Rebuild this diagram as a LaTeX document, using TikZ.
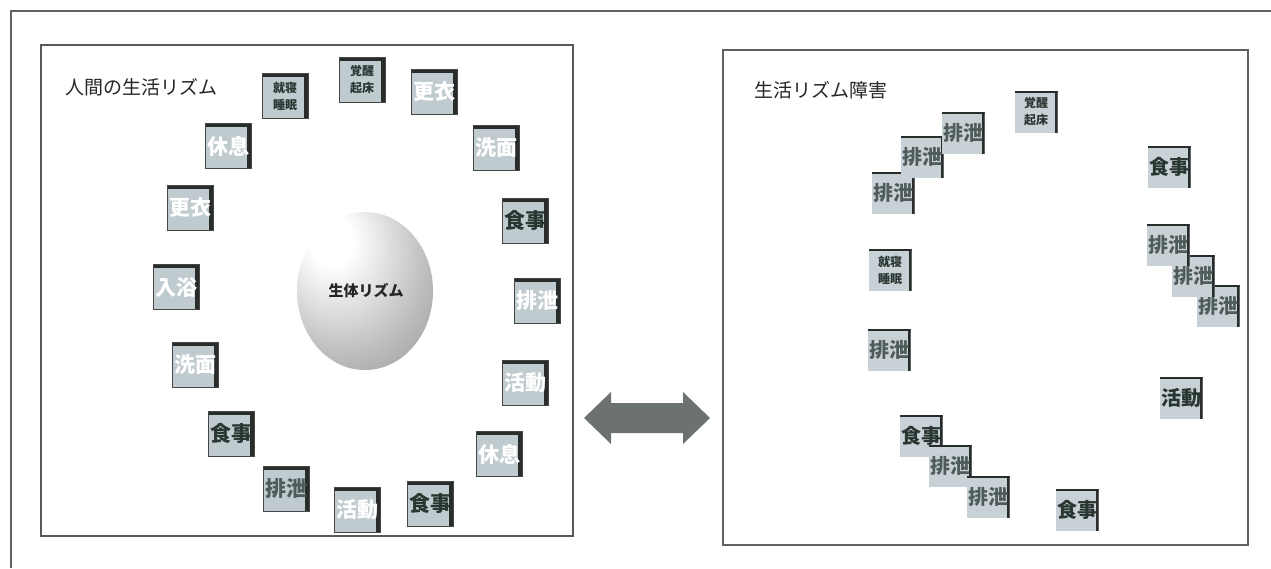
\documentclass[tikz,border=0pt]{standalone}
\usepackage{fontspec}
\newfontfamily\jp{Noto Sans CJK JP}
\definecolor{lfill}{RGB}{192,203,207}
\definecolor{rfill}{RGB}{200,210,214}
\definecolor{edge}{RGB}{40,44,43}
\definecolor{darktxt}{RGB}{42,54,50}
\definecolor{midtxt}{RGB}{80,92,89}
\definecolor{arrowc}{RGB}{108,114,112}
\definecolor{framec}{RGB}{95,98,97}
\pgfdeclareradialshading{spheresh}{\pgfpoint{-14bp}{18bp}}{%
  color(0bp)=(white); color(8bp)=(white); color(18bp)=(gray!22);
  color(30bp)=(gray!50); color(42bp)=(gray!75); color(55bp)=(gray!88); color(75bp)=(gray!95)}
\begin{document}
\begin{tikzpicture}[x=1pt,y=-1pt,
  lbox/.style={rectangle, minimum width=46pt, minimum height=45pt, inner sep=0pt,
    fill=lfill, draw=gray!55!black, line width=0.6pt,
    font=\jp\bfseries\fontsize{21}{23}\selectfont,
    path picture={
      \draw[line width=6pt, edge] (path picture bounding box.north west) -- (path picture bounding box.north east);
      \draw[line width=9pt, edge] (path picture bounding box.north east) -- (path picture bounding box.south east);}},
  rbox/.style={rectangle, minimum width=43pt, minimum height=42pt, inner sep=0pt,
    fill=rfill, font=\jp\bfseries\fontsize{20}{22}\selectfont,
    path picture={
      \draw[line width=4pt, edge] (path picture bounding box.north west) -- (path picture bounding box.north east);
      \draw[line width=6pt, edge] (path picture bounding box.north east) -- (path picture bounding box.south east);}},
  wtxt/.style={text=white},
  dtxt/.style={text=darktxt},
  mtxt/.style={text=midtxt},
  small/.style={align=center, text=darktxt, font=\jp\bfseries\fontsize{12}{17}\selectfont},
  title/.style={anchor=west, font=\jp\fontsize{19}{21}\selectfont, text=black!85},
  frame/.style={draw=framec, line width=1.3pt}
]
\useasboundingbox (0,0) rectangle (1271,568);
\fill[white] (0,0) rectangle (1271,568);
% outer frame
\draw[frame] (1271,11) -- (11,11) -- (11,568);
% panels
\draw[draw=gray!70!black, line width=1.2pt] (41,45) rectangle (573,536);
\draw[draw=framec, line width=1.3pt] (723,50) rectangle (1248,545);
% titles
\node[title] (t1) at (62,87) {人間の生活リズム};
\node[title] (t2) at (751,90) {生活リズム障害};
% sphere
\shade[shading=spheresh] (365,291) ellipse [x radius=68pt, y radius=79pt];
\node[font=\jp\bfseries\fontsize{15}{17}\selectfont, text=black!85] (bio) at (366,291) {生体リズム};
% left boxes
\node[lbox, wtxt] (l1) at (228,146) {休息};
\node[lbox, wtxt] (l2) at (190,208) {更衣};
\node[lbox, wtxt] (l3) at (176,287) {入浴};
\node[lbox, wtxt] (l4) at (195,365) {洗面};
\node[lbox, dtxt] (l5) at (231,434) {食事};
\node[lbox, mtxt] (l6) at (286,489) {排泄};
\node[lbox, wtxt] (l7) at (357,510) {活動};
\node[lbox, dtxt] (l8) at (430,504) {食事};
\node[lbox, wtxt] (l9) at (499,454) {休息};
\node[lbox, wtxt] (l10) at (525,383) {活動};
\node[lbox, wtxt] (l11) at (537,301) {排泄};
\node[lbox, dtxt] (l12) at (525,221) {食事};
\node[lbox, wtxt] (l13) at (496,148) {洗面};
\node[lbox, wtxt] (l14) at (434,92) {更衣};
\node[lbox, small] (l15) at (362,80) {覚醒\\起床};
\node[lbox, small] (l16) at (285,96) {就寝\\睡眠};
% double arrow
\fill[arrowc] (584,418) -- (611,392) -- (611,403) -- (683,403) -- (683,392) -- (710,418)
  -- (683,444) -- (683,433) -- (611,433) -- (611,444) -- cycle;
% right boxes
\node[rbox, small] (r1) at (1036,112) {覚醒\\起床};
\node[rbox, dtxt] (r2) at (1169,167) {食事};
\node[rbox, mtxt] (r5) at (1218,306) {排泄};
\node[rbox, mtxt] (r4) at (1193,276) {排泄};
\node[rbox, mtxt] (r3) at (1168,245) {排泄};
\node[rbox, dtxt] (r6) at (1181,398) {活動};
\node[rbox, dtxt] (r7) at (1077,510) {食事};
\node[rbox, dtxt] (r10) at (921,436) {食事};
\node[rbox, mtxt] (r9) at (950,466) {排泄};
\node[rbox, mtxt] (r8) at (988,497) {排泄};
\node[rbox, mtxt] (r11) at (889,350) {排泄};
\node[rbox, small] (r12) at (890,270) {就寝\\睡眠};
\node[rbox, mtxt] (r13) at (893,193) {排泄};
\node[rbox, mtxt] (r14) at (922,157) {排泄};
\node[rbox, mtxt] (r15) at (963,133) {排泄};
\end{tikzpicture}
\end{document}
